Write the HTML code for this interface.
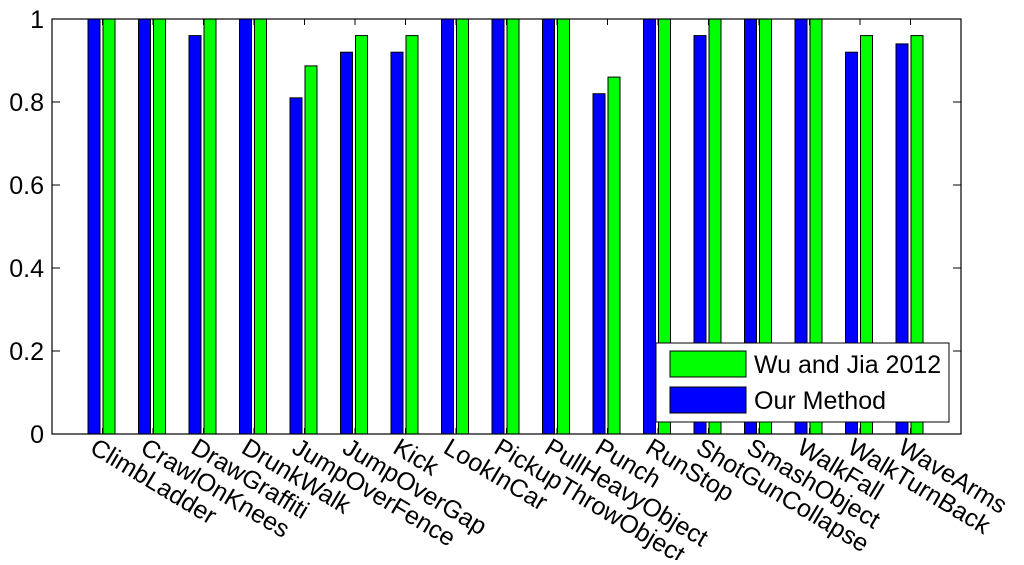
<!DOCTYPE html>
<html><head><meta charset="utf-8"><style>
body{margin:0;background:#fff;}
text{font-family:"Liberation Sans",Arial,sans-serif;fill:#000;}
</style></head><body>
<svg id="chart" width="1024" height="560" xmlns="http://www.w3.org/2000/svg">
<g id="plot"></g>
</svg>
<script>
const categories=["ClimbLadder","CrawlOnKnees","DrawGraffiti","DrunkWalk","JumpOverFence","JumpOverGap","Kick","LookInCar","PickupThrowObject","PullHeavyObject","Punch","RunStop","ShotGunCollapse","SmashObject","WalkFall","WalkTurnBack","WaveArms"];
const ourMethod=[1,1,0.96,1,0.81,0.92,0.92,1,1,1,0.82,1,0.96,1,1,0.92,0.94];
const wuJia=[1,1,1,1,0.887,0.96,0.96,1,1,1,0.86,1,1,1,1,0.96,0.96];
const yTicks=[0,0.2,0.4,0.6,0.8,1];
const yTickLabels=["0","0.2","0.4","0.6","0.8","1"];

const L=52,R=961,T=19,B=434;
const xs=i=>L+(i+1)*(R-L)/18;
const ys=v=>B-v*(B-T);
const NS="http://www.w3.org/2000/svg";
const svg=document.getElementById('plot');
function mk(tag,attrs,parent){const e=document.createElementNS(NS,tag);for(const k in attrs)e.setAttribute(k,attrs[k]);(parent||svg).appendChild(e);return e;}

mk('rect',{x:L,y:T,width:R-L,height:B-T,fill:'#fff',stroke:'none'});
categories.forEach((c,i)=>{
  const cx=xs(i)-1;
  const b=mk('rect',{x:cx-13.5,y:ys(ourMethod[i]),width:12,height:B-ys(ourMethod[i]),fill:'#0000ff',stroke:'#000','stroke-width':1});
  
  
  const g=mk('rect',{x:cx+1.5,y:ys(wuJia[i]),width:12,height:B-ys(wuJia[i]),fill:'#00ff00',stroke:'#000','stroke-width':1});
  
  
  const lx=xs(i)-14, ly=452;
  const t=mk('text',{x:lx,y:ly,'font-size':25,transform:`rotate(31 ${lx} ${ly})`});
  t.textContent=c;
  
  
  mk('line',{x1:xs(i),x2:xs(i),y1:B,y2:B-6,stroke:'#000'});
  mk('line',{x1:xs(i),x2:xs(i),y1:T,y2:T+6,stroke:'#000'});
});
mk('rect',{x:L,y:T,width:R-L,height:B-T,fill:'none',stroke:'#000','stroke-width':1.2});
yTicks.forEach((v,i)=>{
  mk('line',{x1:L,x2:L+8,y1:ys(v),y2:ys(v),stroke:'#000'});
  mk('line',{x1:R,x2:R-8,y1:ys(v),y2:ys(v),stroke:'#000'});
  const t=mk('text',{x:L-8,y:ys(v)+9,'font-size':25,'text-anchor':'end'});
  t.textContent=yTickLabels[i];
  
  
});
const lg=mk('g',{});


mk('rect',{x:656,y:343,width:293,height:79,fill:'#fff',stroke:'#000'},lg);
mk('rect',{x:670,y:351,width:76,height:26,fill:'#00ff00',stroke:'#000'},lg);
mk('rect',{x:670,y:387,width:76,height:26,fill:'#0000ff',stroke:'#000'},lg);
const t1=mk('text',{x:754,y:373,'font-size':25},lg);t1.textContent='Wu and Jia 2012';


const t2=mk('text',{x:754,y:409,'font-size':25},lg);t2.textContent='Our Method';


</script>
</body></html>
